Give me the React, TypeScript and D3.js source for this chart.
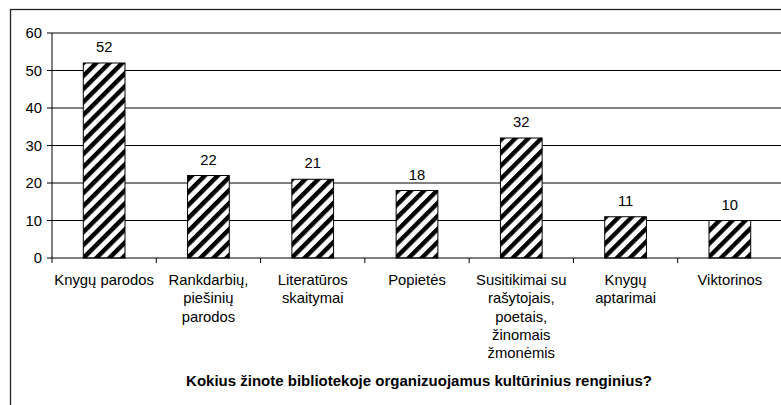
import React from 'react';
import * as d3 from 'd3';

const categories = [
  'Knygų parodos',
  'Rankdarbių, piešinių parodos',
  'Literatūros skaitymai',
  'Popietės',
  'Susitikimai su rašytojais, poetais, žinomais žmonėmis',
  'Knygų aptarimai',
  'Viktorinos',
];
const labelLines = [
  ['Knygų parodos'],
  ['Rankdarbių,', 'piešinių', 'parodos'],
  ['Literatūros', 'skaitymai'],
  ['Popietės'],
  ['Susitikimai su', 'rašytojais,', 'poetais,', 'žinomais', 'žmonėmis'],
  ['Knygų', 'aptarimai'],
  ['Viktorinos'],
];
const values = [52, 22, 21, 18, 32, 11, 10];
const yTicks = [0, 10, 20, 30, 40, 50, 60];
const title = 'Kokius žinote bibliotekoje organizuojamus kultūrinius renginius?';

const W = 781;
const H = 405;
const left = 52;
const right = 782;
const top = 33;
const bottom = 258;
const font = 'Arial, "Liberation Sans", sans-serif';
const fs = 14.8;

const App = () => {
  const x = d3.scaleBand<string>().domain(categories).range([left, right]).paddingInner(0.6).paddingOuter(0.3);
  const band = d3.scaleBand<string>().domain(categories).range([left, right]);
  const y = d3.scaleLinear().domain([0, 60]).range([bottom, top]);

  return (
    <div style={{ position: 'fixed', left: 0, top: 0 }}>
      <svg width={W} height={H} style={{ display: 'block', background: '#fff' }}>
        <defs>
          <pattern id="hatch" patternUnits="userSpaceOnUse" width={9.2} height={9.2} patternTransform="rotate(45)">
            <rect width={9.2} height={9.2} fill="#fff" />
            <rect width={4.4} height={9.2} fill="#000" />
          </pattern>
        </defs>
        <rect x={10.5} y={9.5} width={900} height={500} fill="#fff" stroke="#222" strokeWidth={1.3} />

        {/* grid */}
        {yTicks.filter((t) => t > 0).map((t) => (
          <line key={t} x1={left} x2={right} y1={y(t)} y2={y(t)} stroke="#000" strokeWidth={1} />
        ))}

        {/* bars */}
        {values.map((v, i) => (
          <g key={i}>
            <rect
              x={x(categories[i])}
              y={y(v)}
              width={x.bandwidth()}
              height={y(0) - y(v)}
              fill="url(#hatch)"
              stroke="#000"
              strokeWidth={1}
            />
            <text
              x={x(categories[i])! + x.bandwidth() / 2}
              y={y(v) - 11}
              textAnchor="middle"
              fontFamily={font}
              fontSize={fs}
            >
              {v}
            </text>
          </g>
        ))}

        {/* y axis */}
        <line x1={left} x2={left} y1={top} y2={bottom} stroke="#000" />
        {yTicks.map((t) => (
          <g key={t}>
            <line x1={left - 5} x2={left} y1={y(t)} y2={y(t)} stroke="#000" />
            <text x={42} y={y(t)} dy="0.35em" textAnchor="end" fontFamily={font} fontSize={fs}>
              {t}
            </text>
          </g>
        ))}

        {/* x axis */}
        <line x1={left} x2={right} y1={bottom} y2={bottom} stroke="#000" />
        {categories.map((c) => (
          <line key={c} x1={band(c)} x2={band(c)} y1={bottom} y2={bottom + 5} stroke="#000" />
        ))}
        {labelLines.map((lines, i) => (
          <text
            key={i}
            x={band(categories[i])! + band.bandwidth() / 2}
            y={285}
            textAnchor="middle"
            fontFamily={font}
            fontSize={fs}
          >
            {lines.map((l, j) => (
              <tspan key={j} x={band(categories[i])! + band.bandwidth() / 2} dy={j === 0 ? 0 : 18.3}>
                {l}
              </tspan>
            ))}
          </text>
        ))}

        <text x={419} y={386} textAnchor="middle" fontFamily={font} fontSize={15} fontWeight="bold">
          {title}
        </text>
      </svg>
    </div>
  );
};

export default App;
